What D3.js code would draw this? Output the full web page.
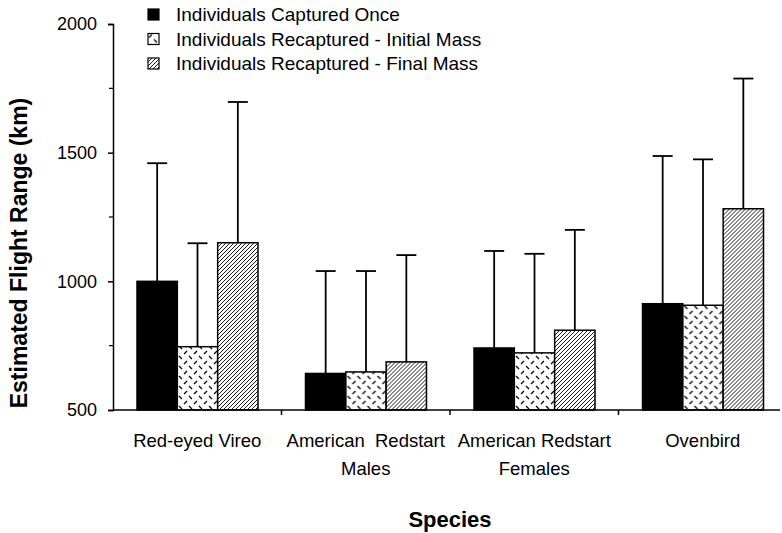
<!DOCTYPE html>
<html>
<head>
<meta charset="utf-8">
<script src="https://cdn.jsdelivr.net/npm/d3@7"></script>
<style>
  body { margin: 0; background: #fff; }
  text { font-family: "Liberation Sans", Arial, sans-serif; fill: #000; }
</style>
</head>
<body>
<div id="chart"></div>
<script>
// data
const categories = ['Red-eyed Vireo', 'American Redstart Males', 'American Redstart Females', 'Ovenbird'];
const categoryLines = [['Red-eyed Vireo'], ['American  Redstart', 'Males'], ['American Redstart', 'Females'], ['Ovenbird']];
const seriesNames = ['Individuals Captured Once', 'Individuals Recaptured - Initial Mass', 'Individuals Recaptured - Final Mass'];
const capturedOnce = [1000, 642, 741, 913];
const capturedOnceErr = [459, 398, 377, 574];
const initialMass = [746, 648, 722, 907];
const initialMassErr = [402, 392, 385, 567];
const finalMass = [1150, 687, 810, 1282];
const finalMassErr = [547, 415, 390, 506];
const yTicks = [500, 1000, 1500, 2000];
const yMinorTicks = [750, 1250, 1750];

const seriesValues = [capturedOnce, initialMass, finalMass];
const seriesErrs = [capturedOnceErr, initialMassErr, finalMassErr];
const fills = ['#000', 'url(#dashes)', 'url(#hatch)'];

const width = 782, height = 533;
const svg = d3.select('#chart').append('svg')
  .attr('width', width)
  .attr('height', height);

// patterns
const defs = svg.append('defs');
const dashes = defs.append('pattern')
  .attr('id', 'dashes')
  .attr('patternUnits', 'userSpaceOnUse')
  .attr('width', 10).attr('height', 10);
dashes.append('rect').attr('width', 10).attr('height', 10).attr('fill', '#fff');
dashes.append('line').attr('x1', 1).attr('y1', 4).attr('x2', 4).attr('y2', 1)
  .attr('stroke', '#000').attr('stroke-width', 1.2);
dashes.append('line').attr('x1', 6).attr('y1', 6).attr('x2', 9).attr('y2', 9)
  .attr('stroke', '#000').attr('stroke-width', 1.2);

const hatch = defs.append('pattern')
  .attr('id', 'hatch')
  .attr('patternUnits', 'userSpaceOnUse')
  .attr('width', 4).attr('height', 4);
hatch.append('rect').attr('width', 4).attr('height', 4).attr('fill', '#fff');
hatch.append('path').attr('d', 'M-1,1 l2,-2 M0,4 l4,-4 M3,5 l2,-2')
  .attr('stroke', '#000').attr('stroke-width', 0.9);

const x0 = d3.scaleBand()
  .domain(categories)
  .range([113, 787]);

const x1 = d3.scaleBand()
  .domain(d3.range(seriesNames.length))
  .range([24, 145]);

const y = d3.scaleLinear()
  .domain([500, 2000])
  .range([410, 24]);

// bars
const groups = svg.append('g').selectAll('g')
  .data(categories)
  .enter().append('g')
  .attr('transform', (d) => 'translate(' + x0(d) + ',0)');

groups.selectAll('rect')
  .data((d, i) => seriesValues.map((vals, s) => ({ s: s, v: vals[i], e: seriesErrs[s][i] })))
  .enter().append('rect')
  .attr('x', (d) => x1(d.s))
  .attr('y', (d) => y(d.v))
  .attr('width', x1.bandwidth())
  .attr('height', (d) => y(500) - y(d.v))
  .attr('fill', (d) => fills[d.s])
  .attr('stroke', '#000')
  .attr('stroke-width', 1.5);

// error bars, upper half only
const err = groups.selectAll('g.err')
  .data((d, i) => seriesValues.map((vals, s) => ({ s: s, v: vals[i], e: seriesErrs[s][i] })))
  .enter().append('g')
  .attr('class', 'err')
  .attr('stroke', '#000')
  .attr('stroke-width', 1.8);

err.append('line')
  .attr('x1', (d) => x1(d.s) + x1.bandwidth() / 2)
  .attr('x2', (d) => x1(d.s) + x1.bandwidth() / 2)
  .attr('y1', (d) => y(d.v))
  .attr('y2', (d) => y(d.v + d.e));

err.append('line')
  .attr('x1', (d) => x1(d.s) + x1.bandwidth() / 2 - 10)
  .attr('x2', (d) => x1(d.s) + x1.bandwidth() / 2 + 10)
  .attr('y1', (d) => y(d.v + d.e))
  .attr('y2', (d) => y(d.v + d.e));

// y axis
const yAxis = d3.axisLeft(y)
  .tickValues(yTicks)
  .tickSize(5)
  .tickPadding(11)
  .tickFormat(d3.format('d'));

svg.append('g')
  .attr('transform', 'translate(113,0)')
  .call(yAxis)
  .call((g) => g.selectAll('text').style('font-size', '18px').attr('font-family', null))
  .call((g) => g.selectAll('path, line').attr('stroke-width', 1.5));

svg.append('g')
  .selectAll('line')
  .data(yMinorTicks)
  .enter().append('line')
  .attr('x1', 109).attr('x2', 113)
  .attr('y1', (d) => y(d)).attr('y2', (d) => y(d))
  .attr('stroke', '#000').attr('stroke-width', 1.2);

// x axis
svg.append('line')
  .attr('x1', 113).attr('x2', 780)
  .attr('y1', y(500)).attr('y2', y(500))
  .attr('stroke', '#000').attr('stroke-width', 1.5);

svg.append('g')
  .selectAll('line')
  .data(categories.slice(1))
  .enter().append('line')
  .attr('x1', (d) => x0(d)).attr('x2', (d) => x0(d))
  .attr('y1', y(500)).attr('y2', y(500) + 5)
  .attr('stroke', '#000').attr('stroke-width', 1.5);

const labels = svg.append('g').selectAll('text')
  .data(categories)
  .enter().append('text')
  .attr('x', (d) => x0(d) + x0.bandwidth() / 2)
  .attr('y', 447)
  .attr('text-anchor', 'middle')
  .style('font-size', '18.5px')
  .style('white-space', 'pre');

labels.selectAll('tspan')
  .data((d, i) => categoryLines[i])
  .enter().append('tspan')
  .attr('x', function() { return d3.select(this.parentNode).attr('x'); })
  .attr('dy', (d, i) => i === 0 ? 0 : 28)
  .text((d) => d);

// axis titles
svg.append('text')
  .attr('x', 450).attr('y', 527)
  .attr('text-anchor', 'middle')
  .style('font-size', '22px')
  .style('font-weight', 'bold')
  .text('Species');

svg.append('text')
  .attr('transform', 'translate(27,253) rotate(-90)')
  .attr('text-anchor', 'middle')
  .style('font-size', '23px')
  .style('font-weight', 'bold')
  .text('Estimated Flight Range (km)');

// legend
const legend = svg.append('g').selectAll('g')
  .data(seriesNames)
  .enter().append('g')
  .attr('transform', (d, i) => 'translate(148,' + (9 + i * 24.5) + ')');

legend.append('rect')
  .attr('width', 11).attr('height', 11)
  .attr('fill', (d, i) => fills[i])
  .attr('stroke', '#000')
  .attr('stroke-width', 1.2);

legend.append('text')
  .attr('x', 28).attr('y', 12)
  .style('font-size', '19px')
  .text((d) => d);
</script>
</body>
</html>
